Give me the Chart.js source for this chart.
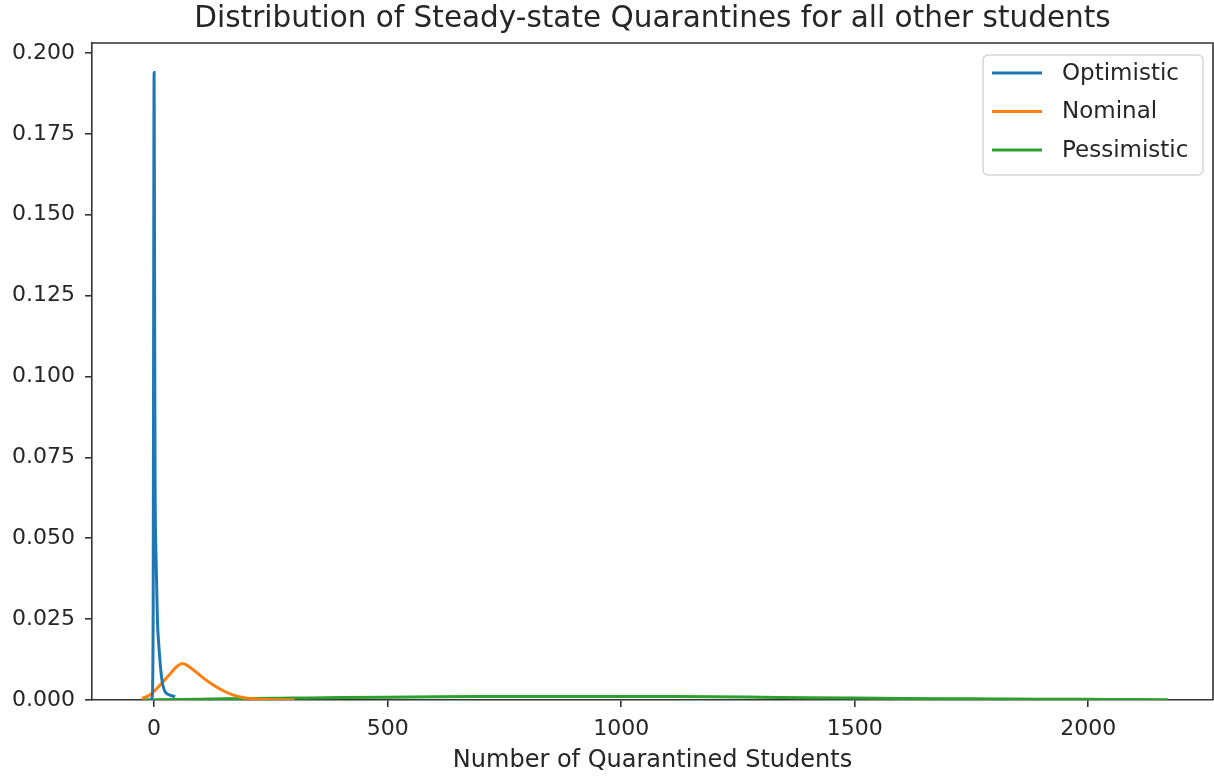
<!DOCTYPE html>
<html>
<head>
<meta charset="utf-8">
<script src="https://cdn.jsdelivr.net/npm/chart.js@4.4.1/dist/chart.umd.min.js"></script>
<style>
  html, body { margin: 0; padding: 0; background: #fff; }
  #wrap { width: 1214px; height: 776px; }
</style>
</head>
<body>
<div id="wrap"><canvas id="kdeChart" width="1214" height="776"></canvas></div>
<script>
// values
const optimisticX = [-8, -4, -2, -1, 0, 1, 2, 4, 7, 10, 16, 22, 34, 45]
const optimisticY = [0, 0.001, 0.03, 0.12, 0.194, 0.13, 0.07, 0.045, 0.025, 0.017, 0.007, 0.003, 0.0015, 0.001]

const nominalX = [-26, -10, 0, 10, 20, 35, 50, 60, 70, 90, 110, 130, 150, 170, 190, 220, 260, 300]
const nominalY = [0.0005, 0.0015, 0.0027, 0.0042, 0.0058, 0.0082, 0.0105, 0.0113, 0.0108, 0.0086, 0.0063, 0.0043, 0.0027, 0.0015, 0.0008, 0.0003, 0.0001, 0]

const pessimisticX = [-24, 0, 100, 200, 300, 400, 500, 600, 700, 800, 900, 1000, 1100, 1200, 1300, 1400, 1500, 1600, 1700, 1800, 1900, 2000, 2100, 2170]
const pessimisticY = [0.00005, 0.0001, 0.00025, 0.00045, 0.0006, 0.00075, 0.00088, 0.00098, 0.00105, 0.0011, 0.00112, 0.00112, 0.00108, 0.001, 0.00085, 0.0007, 0.00058, 0.00048, 0.0004, 0.00033, 0.00026, 0.0002, 0.00014, 0.0001]

const seriesNames = ['Optimistic', 'Nominal', 'Pessimistic']
const xTicks = [0, 500, 1000, 1500, 2000]
const yTicks = [0, 0.025, 0.05, 0.075, 0.1, 0.125, 0.15, 0.175, 0.2]
const chartTitle = 'Distribution of Steady-state Quarantines for all other students'

const FONT = 'DejaVu Sans'
const TXT = '#262626'

const toPoints = (xs, ys) => xs.map((x, i) => ({ x: x, y: ys[i] }))

// top/right frame like matplotlib spines, title centred over the axes
const framePlugin = {
   id: 'frame',
   afterDraw(chart) {
      const { ctx, chartArea: a } = chart
      ctx.save()
      ctx.strokeStyle = '#333'
      ctx.lineWidth = 1.6
      ctx.beginPath()
      ctx.moveTo(a.left, a.top)
      ctx.lineTo(a.right, a.top)
      ctx.lineTo(a.right, a.bottom)
      ctx.stroke()
      ctx.fillStyle = TXT
      ctx.font = '29.5px ' + FONT
      ctx.textAlign = 'center'
      ctx.textBaseline = 'middle'
      ctx.fillText(chartTitle, (a.left + a.right) / 2, 19)
      ctx.restore()
   }
}

// boxed legend in the upper right corner
const boxLegend = {
   id: 'boxLegend',
   afterDraw(chart) {
      const { ctx, chartArea: a } = chart
      const w = 220, h = 120
      const x0 = a.right - 10 - w, y0 = a.top + 12
      ctx.save()
      ctx.fillStyle = 'rgba(255,255,255,0.8)'
      ctx.strokeStyle = '#d6d6d6'
      ctx.lineWidth = 1.5
      ctx.beginPath()
      ctx.roundRect(x0, y0, w, h, 5)
      ctx.fill()
      ctx.stroke()
      ctx.font = '23px ' + FONT
      ctx.textBaseline = 'middle'
      chart.data.datasets.forEach((ds, i) => {
         const y = y0 + 18 + i * 38.5
         ctx.strokeStyle = ds.borderColor
         ctx.lineWidth = 3
         ctx.beginPath()
         ctx.moveTo(x0 + 9, y)
         ctx.lineTo(x0 + 59, y)
         ctx.stroke()
         ctx.fillStyle = TXT
         ctx.fillText(ds.label, x0 + 79, y + 1)
      })
      ctx.restore()
   }
}

const lineStyle = color => ({
   borderColor: color,
   backgroundColor: color,
   borderWidth: 3,
   pointRadius: 0,
   tension: 0.3,
   cubicInterpolationMode: 'monotone',
   fill: false
})

const kdeChart = new Chart(document.getElementById('kdeChart'), {
   type: 'line',
   data: {
      datasets: [
         { label: seriesNames[0], data: toPoints(optimisticX, optimisticY), ...lineStyle('#1f77b4') },
         { label: seriesNames[1], data: toPoints(nominalX, nominalY), ...lineStyle('#ff7f0e') },
         { label: seriesNames[2], data: toPoints(pessimisticX, pessimisticY), ...lineStyle('#2ca02c') }
      ]
   },
   options: {
      responsive: false,
      animation: false,
      layout: { padding: { left: 0, right: 1, top: 43, bottom: 0 } },
      plugins: {
         legend: { display: false },
         tooltip: { enabled: false },
         title: { display: false }
      },
      scales: {
         x: {
            type: 'linear',
            min: -133,
            max: 2267,
            afterBuildTicks: s => { s.ticks = xTicks.map(v => ({ value: v })) },
            afterFit: s => { s.height = 76 },
            grid: { display: true, drawOnChartArea: false, drawTicks: true, tickLength: 7, color: '#333', lineWidth: 1.6 },
            border: { display: true, color: '#333', width: 1.6 },
            ticks: { color: TXT, font: { family: FONT, size: 22 }, padding: 9, maxRotation: 0, callback: v => String(v) },
            title: {
               display: true,
               text: 'Number of Quarantined Students',
               color: TXT,
               font: { family: FONT, size: 24 },
               padding: { top: 2, bottom: 1 }
            }
         },
         y: {
            min: 0,
            max: 0.2031,
            afterBuildTicks: s => { s.ticks = yTicks.map(v => ({ value: v })) },
            afterFit: s => { s.width = 92 },
            grid: { display: true, drawOnChartArea: false, drawTicks: true, tickLength: 7, color: '#333', lineWidth: 1.6 },
            border: { display: true, color: '#333', width: 1.6 },
            ticks: {
               color: TXT,
               font: { family: FONT, size: 22 },
               padding: 10,
               callback: v => v.toFixed(3)
            }
         }
      }
   },
   plugins: [framePlugin, boxLegend]
})
</script>
</body>
</html>
